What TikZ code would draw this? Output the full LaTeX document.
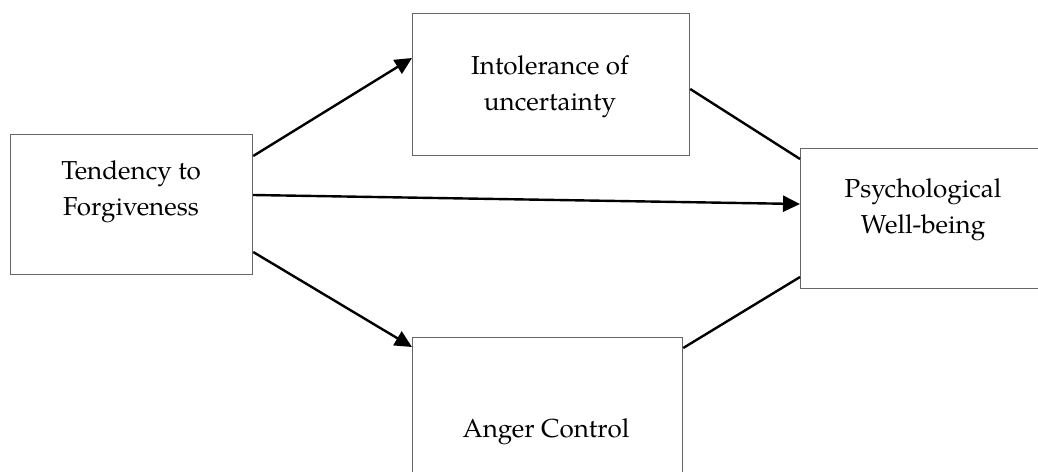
\documentclass[tikz,border=0pt]{standalone}
\usepackage{fontspec}
\setmainfont{TeX Gyre Pagella}
\usetikzlibrary{arrows.meta}
\tikzset{
  box/.style={draw=black!60, line width=1.2pt, fill=white, inner sep=0pt, anchor=north west},
  lbl/.style={align=center, inner sep=0pt, font=\fontsize{26}{36}\selectfont},
  conn/.style={draw=black, line width=2.4pt},
  arr/.style={conn, -{Triangle[length=17pt,width=16pt]}}
}
\begin{document}
\begin{tikzpicture}[x=1pt,y=-1pt]
\useasboundingbox (0,0) rectangle (1038,471);
\clip (0,0) rectangle (1038,471);
\fill[white] (0,0) rectangle (1038,471);
\node[box, minimum width=242pt, minimum height=140pt] (tf) at (10,134) {};
\node[box, minimum width=277pt, minimum height=142pt] (iu) at (412,13) {};
\node[box, minimum width=250pt, minimum height=140pt] (pw) at (800,148) {};
\node[box, minimum width=270pt, minimum height=150pt] (ac) at (412,337) {};
\node[lbl] (tft) at (131,192) {Tendency to\\Forgiveness};
\node[lbl] (iut) at (550,87) {Intolerance of\\uncertainty};
\node[lbl] (pwt) at (923,210) {Psychological\\Well-being};
\node[lbl] (act) at (546,432) {Anger Control};
\coordinate (tf1) at ([yshift=-22pt]tf.north east);
\coordinate (tf2) at ([yshift=-61pt]tf.north east);
\coordinate (tf3) at ([yshift=-118pt]tf.north east);
\coordinate (iuin) at ([yshift=-45pt]iu.north west);
\coordinate (iuout) at ([yshift=-76pt]iu.north east);
\coordinate (pw1) at ([yshift=-11pt]pw.north west);
\coordinate (pw2) at ([yshift=-56pt]pw.north west);
\coordinate (pw3) at ([yshift=-129pt]pw.north west);
\coordinate (acin) at ([yshift=-10pt]ac.north west);
\coordinate (acout) at ([yshift=-11pt]ac.north east);
\draw[arr] (tf1) -- (iuin);
\draw[arr] (tf2) -- (pw2);
\draw[arr] (tf3) -- (acin);
\draw[conn] (iuout) -- (pw1);
\draw[conn] (acout) -- (pw3);
\end{tikzpicture}
\end{document}
